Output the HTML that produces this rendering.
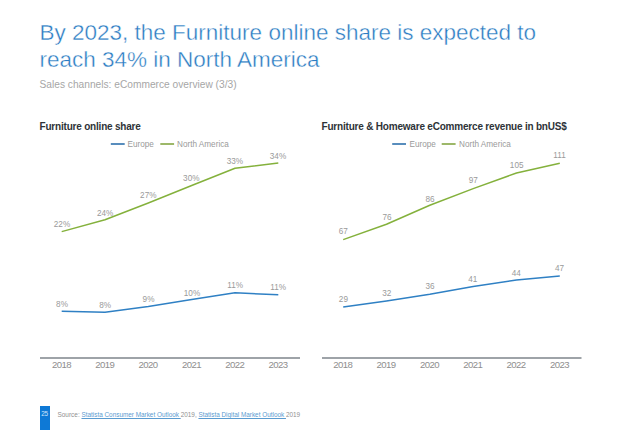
<!DOCTYPE html>
<html>
<head>
<meta charset="utf-8">
<style>
html,body{margin:0;padding:0;background:#fff;}
body{width:621px;height:430px;position:relative;overflow:hidden;font-family:"Liberation Sans",Arial,sans-serif;}
.t{position:absolute;white-space:nowrap;line-height:1;}
#h1{left:39.5px;top:21.9px;font-size:22.5px;color:#2a7bc2;-webkit-text-stroke:0.4px #fff;}
#h2{left:39.5px;top:48.6px;font-size:22.5px;color:#2a7bc2;-webkit-text-stroke:0.4px #fff;}
#sub{left:39.5px;top:79.5px;font-size:10.2px;color:#a6a6a6;}
.ct{font-weight:bold;font-size:10px;letter-spacing:-0.2px;color:#2e3338;top:122.2px;}
#ct1{left:39.5px;}
#ct2{left:321.5px;}
svg{position:absolute;left:0;top:0;}
#pg{position:absolute;left:40px;top:405.5px;width:10px;height:25px;background:#0e79d6;}
#pgn{left:41.2px;top:411.2px;font-size:6.4px;letter-spacing:-0.25px;color:#cfe6fb;}
#src{left:57.5px;top:412px;font-size:6.45px;color:#909090;}
#src .s2{font-size:6.38px;}
#src a{color:#5a9bd0;text-decoration:underline;}
</style>
</head>
<body>
<div class="t" id="h1">By 2023, the Furniture online share is expected to</div>
<div class="t" id="h2">reach 34% in North America</div>
<div class="t" id="sub">Sales channels: eCommerce overview (3/3)</div>
<div class="t ct" id="ct1">Furniture online share</div>
<div class="t ct" id="ct2">Furniture &amp; Homeware eCommerce revenue in bnUS$</div>

<svg width="621" height="430" viewBox="0 0 621 430" font-family="Liberation Sans, Arial, sans-serif">
  <!-- legends -->
  <g stroke-width="1.8">
    <line x1="110.8" y1="144" x2="124.7" y2="144" stroke="#4681b6"/>
    <line x1="160.3" y1="144" x2="174.1" y2="144" stroke="#92b058"/>
    <line x1="392.2" y1="144" x2="406" y2="144" stroke="#4681b6"/>
    <line x1="441.7" y1="144" x2="455.6" y2="144" stroke="#92b058"/>
  </g>
  <g font-size="8.2" fill="#9a9a9a">
    <text x="127.5" y="147.4">Europe</text>
    <text x="177" y="147.4">North America</text>
    <text x="409.5" y="147.4">Europe</text>
    <text x="459" y="147.4">North America</text>
  </g>
  <!-- axes -->
  <rect x="40" y="357" width="260" height="2" fill="#9ea3a8"/>
  <rect x="322" y="357" width="259.5" height="2" fill="#9ea3a8"/>
  <g font-size="9.6" letter-spacing="-0.55" fill="#8e8e8e" text-anchor="middle">
    <text x="61.5" y="368">2018</text>
    <text x="104.8" y="368">2019</text>
    <text x="148.1" y="368">2020</text>
    <text x="191.5" y="368">2021</text>
    <text x="234.8" y="368">2022</text>
    <text x="278.1" y="368">2023</text>
    <text x="342.8" y="368">2018</text>
    <text x="386.1" y="368">2019</text>
    <text x="429.5" y="368">2020</text>
    <text x="472.8" y="368">2021</text>
    <text x="516.1" y="368">2022</text>
    <text x="559.5" y="368">2023</text>
  </g>
  <!-- lines -->
  <g fill="none" stroke-width="1.5" stroke-linejoin="round" stroke-linecap="butt">
    <polyline stroke="#84b13c" points="61.7,231.6 105,219.7 148.3,203 191.7,185.5 235,168.3 278.3,163"/>
    <polyline stroke="#2f80c4" points="61.7,311.3 105,312.3 148.3,306.5 191.7,299.4 235,292.8 278.3,294.7"/>
    <polyline stroke="#84b13c" points="343.2,239.6 386.5,224.2 429.8,205.2 473.2,188.6 516.5,173 559.8,163.2"/>
    <polyline stroke="#2f80c4" points="343.2,307.1 386.5,300.9 429.8,294.2 473.2,286.4 516.5,280.1 559.8,275.9"/>
  </g>
  <!-- data labels -->
  <g font-size="8.2" fill="#9a9a9a" text-anchor="middle">
    <text x="62" y="227">22%</text>
    <text x="105.2" y="215.6">24%</text>
    <text x="148.3" y="198.3">27%</text>
    <text x="191.3" y="181.4">30%</text>
    <text x="234.9" y="164.2">33%</text>
    <text x="278" y="158.8">34%</text>
    <text x="62" y="306.7">8%</text>
    <text x="105.2" y="307.6">8%</text>
    <text x="148.5" y="301.8">9%</text>
    <text x="192" y="295.7">10%</text>
    <text x="235.2" y="287.8">11%</text>
    <text x="278.2" y="289.9">11%</text>
    <text x="343.2" y="234.4">67</text>
    <text x="387" y="219.9">76</text>
    <text x="430" y="201.5">86</text>
    <text x="473.2" y="183.2">97</text>
    <text x="516.7" y="168.1">105</text>
    <text x="559.5" y="157.7">111</text>
    <text x="343.4" y="302.1">29</text>
    <text x="386.8" y="296.1">32</text>
    <text x="430" y="288.9">36</text>
    <text x="472.8" y="281.6">41</text>
    <text x="516.3" y="275.5">44</text>
    <text x="559.5" y="270.9">47</text>
  </g>
</svg>

<div id="pg"></div>
<div class="t" id="pgn">25</div>
<div class="t" id="src">Source: <span class="s2"><a>Statista Consumer Market Outlook </a>2019, <a>Statista Digital Market Outlook </a>2019</span></div>
</body>
</html>
